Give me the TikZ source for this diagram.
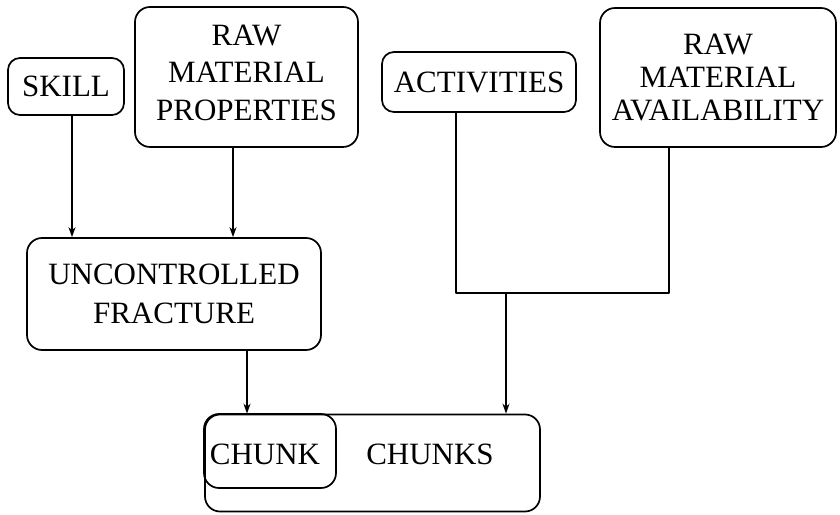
\documentclass[tikz,border=0pt]{standalone}
\usepackage{fontspec}
\setmainfont{Liberation Serif}
\usetikzlibrary{arrows.meta}
\tikzset{
  boxnode/.style={draw=black, line width=1.7pt, rounded corners=15pt, inner sep=0pt, align=center},
  txt/.style={inner sep=0pt, align=center, font=\fontsize{31}{37.5}\selectfont},
  conn/.style={line width=2.7pt, draw=black},
  arr/.style={conn, -{Stealth[length=10pt,width=7pt]}},
}
\begin{document}
\begin{tikzpicture}[x=1pt,y=1pt]
\useasboundingbox (0,0) rectangle (840,514);
\node[boxnode, rounded corners=12pt, minimum width=116pt, minimum height=57pt,
  font=\fontsize{31}{37}\selectfont] (skill) at (66,427.5) {SKILL};
\node[boxnode, minimum width=223pt, minimum height=140pt] (rmp) at (246.5,437) {};
\node[txt] (rmptxt) at (246.5,441.5) {RAW\\MATERIAL\\PROPERTIES};
\node[boxnode, rounded corners=12pt, minimum width=194pt, minimum height=60pt,
  font=\fontsize{31}{37}\selectfont] (act) at (479,432) {ACTIVITIES};
\node[boxnode, minimum width=236pt, minimum height=139pt,
  font=\fontsize{31}{33}\selectfont] (rma) at (718,436.5) {RAW\\MATERIAL\\AVAILABILITY};
\node[boxnode, minimum width=294pt, minimum height=112pt,
  font=\fontsize{31}{39}\selectfont] (uf) at (174,220) {UNCONTROLLED\\FRACTURE};
\node[boxnode, minimum width=335pt, minimum height=97pt] (chunksbox) at (372.5,51) {};
\node[boxnode, minimum width=132pt, minimum height=74pt] (chunk) at (270,63) {};
\node[txt] (chunktxt) at (265,60) {CHUNK};
\node[txt] (chunkstxt) at (430,60) {CHUNKS};
% connectors
\draw[arr] ([xshift=6pt]skill.south) -- ([xshift=6pt]skill.south |- uf.north);
\draw[arr] ([xshift=-13.5pt]rmp.south) -- ([xshift=-13.5pt]rmp.south |- uf.north);
\coordinate (jb) at (669,221);
\coordinate (jm) at (506,221);
\draw[conn, line join=round] ([xshift=-23pt]act.south) |- (jb) -- ([xshift=-49pt]rma.south);
\draw[arr] (jm) -- (jm |- chunksbox.north);
\draw[arr] ([xshift=73pt]uf.south) -- ([xshift=73pt]uf.south |- chunksbox.north);
\end{tikzpicture}
\end{document}
